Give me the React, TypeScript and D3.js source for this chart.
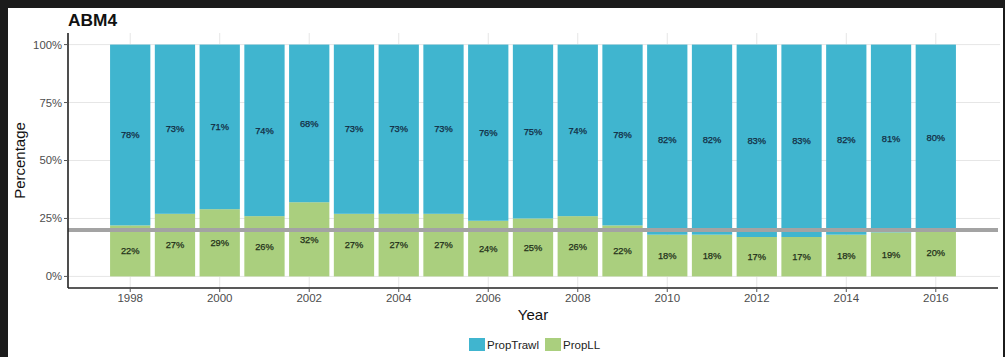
import React from "react";
import * as d3 from "d3";

const years = [1998, 1999, 2000, 2001, 2002, 2003, 2004, 2005, 2006, 2007, 2008, 2009, 2010, 2011, 2012, 2013, 2014, 2015, 2016];
const propTrawl = [78, 73, 71, 74, 68, 73, 73, 73, 76, 75, 74, 78, 82, 82, 83, 83, 82, 81, 80];
const propLL = [22, 27, 29, 26, 32, 27, 27, 27, 24, 25, 26, 22, 18, 18, 17, 17, 18, 19, 20];
const yTicks = [0, 25, 50, 75, 100];
const xTicks = [1998, 2000, 2002, 2004, 2006, 2008, 2010, 2012, 2014, 2016];
const refLine = 20;

const W = 1005, H = 357;
const FONT = "'Liberation Sans', Arial, sans-serif";
const BLUE = "#40b5cf";
const GREEN = "#aacf7e";

export default function App() {
  const x = d3.scaleLinear().domain([1996.61, 2017.39]).range([68, 998]);
  const y = d3.scaleLinear().domain([-5, 105]).range([288, 33]);
  const bw = (x(1) - x(0)) * 0.9;

  return (
    <svg width={W} height={H} style={{ position: "absolute", left: 0, top: 0, fontFamily: FONT }}>
      <rect x={0} y={0} width={W} height={H} fill="#1b1b1b" />
      <rect x={8} y={8} width={W - 10} height={H - 8} fill="#ffffff" />
      {/* grid */}
      {yTicks.map((t) => (
        <line key={"gy" + t} x1={68} x2={1000} y1={y(t)} y2={y(t)} stroke="#e6e6e6" strokeWidth={1} />
      ))}
      {xTicks.map((t) => (
        <line key={"gx" + t} x1={x(t)} x2={x(t)} y1={33} y2={288} stroke="#e6e6e6" strokeWidth={1} />
      ))}
      {/* bars */}
      {years.map((yr, i) => {
        const ll = propLL[i];
        const tr = propTrawl[i];
        return (
          <g key={yr}>
            <rect x={x(yr) - bw / 2} y={y(ll)} width={bw} height={y(0) - y(ll)} fill={GREEN} />
            <rect x={x(yr) - bw / 2} y={y(ll + tr)} width={bw} height={y(ll) - y(ll + tr)} fill={BLUE} />
          </g>
        );
      })}
      {/* reference line */}
      <line x1={68} x2={998} y1={y(refLine)} y2={y(refLine)} stroke="#a3a3a3" strokeWidth={4} />
      {/* labels */}
      {years.map((yr, i) => {
        const ll = propLL[i];
        const tr = propTrawl[i];
        return (
          <g key={"l" + yr} fontSize={9.3} textAnchor="middle" strokeWidth={0.25}>
            <text x={x(yr)} y={y(ll / 2)} dy="0.35em" fill="#23301a" stroke="#23301a">{ll}%</text>
            <text x={x(yr)} y={y(ll + tr / 2)} dy="0.35em" fill="#132c42" stroke="#132c42">{tr}%</text>
          </g>
        );
      })}
      {/* axes */}
      <line x1={68} x2={68} y1={33} y2={288} stroke="#222" strokeWidth={1.6} />
      <line x1={68} x2={998} y1={288} y2={288} stroke="#222" strokeWidth={1.6} />
      {yTicks.map((t) => (
        <g key={"yt" + t}>
          <line x1={64} x2={68} y1={y(t)} y2={y(t)} stroke="#555" />
          <text x={62} y={y(t)} dy="0.35em" textAnchor="end" fontSize={11.3} fill="#4d4d4d">{t}%</text>
        </g>
      ))}
      {xTicks.map((t) => (
        <g key={"xt" + t}>
          <line x1={x(t)} x2={x(t)} y1={288} y2={292} stroke="#555" />
          <text x={x(t)} y={302} textAnchor="middle" fontSize={11.5} fill="#4d4d4d">{t}</text>
        </g>
      ))}
      <text x={533} y={320} textAnchor="middle" fontSize={15} fill="#111">Year</text>
      <text transform={`translate(25,${y(50)}) rotate(-90)`} textAnchor="middle" fontSize={15} fill="#111">Percentage</text>
      <text x={68} y={26} fontSize={16} fontWeight="bold" fill="#111" textLength={49} lengthAdjust="spacingAndGlyphs">ABM4</text>
      {/* legend */}
      <rect x={469} y={338} width={16} height={13} fill={BLUE} />
      <text x={487} y={344.5} dy="0.35em" fontSize={11.5} fill="#222">PropTrawl</text>
      <rect x={545} y={338} width={16} height={13} fill={GREEN} />
      <text x={563} y={344.5} dy="0.35em" fontSize={11.5} fill="#222">PropLL</text>
    </svg>
  );
}
